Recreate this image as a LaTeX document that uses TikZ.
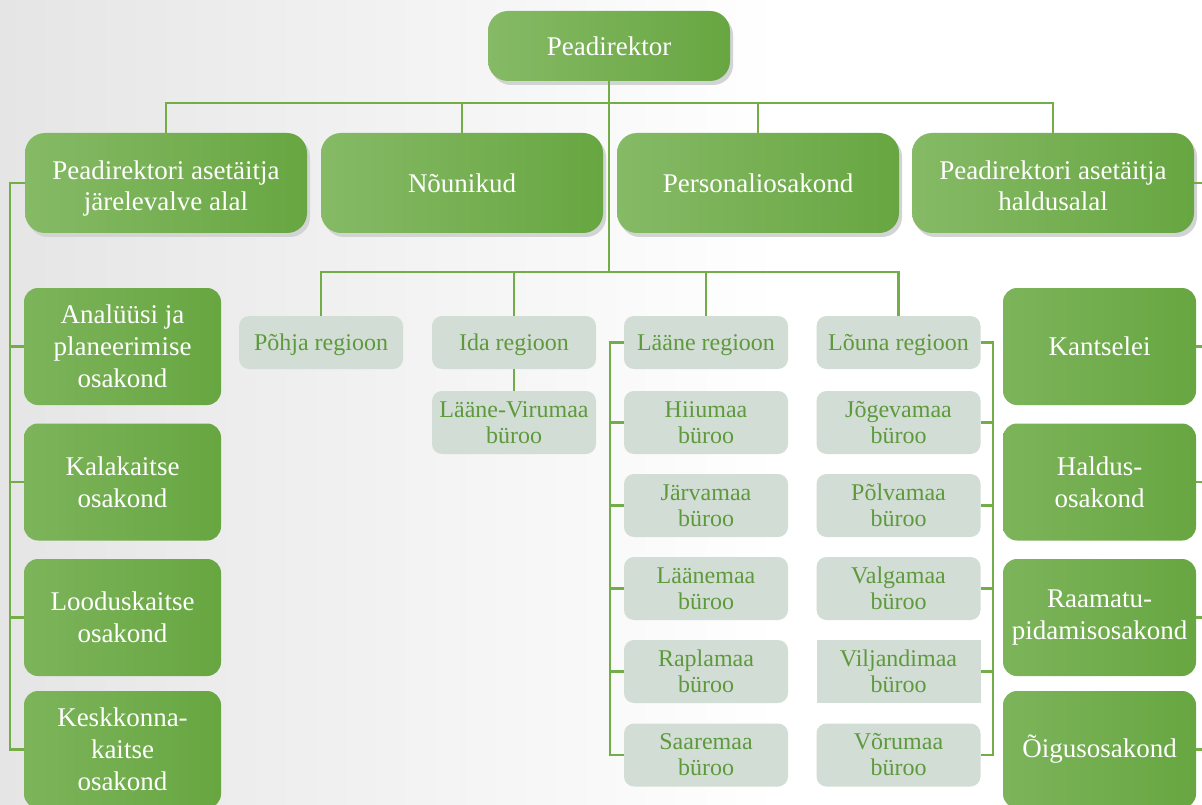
\documentclass[tikz,border=0pt]{standalone}
\usepackage{fontspec}
\setmainfont{Liberation Serif}
\usetikzlibrary{shadows}
\definecolor{gline}{HTML}{72AD48}
\definecolor{gdark}{HTML}{67A641}
\definecolor{glight}{HTML}{86BA66}
\definecolor{gbox}{HTML}{D2DDD6}
\definecolor{gtext}{HTML}{5E9A3C}
\definecolor{shadowc}{HTML}{D2D3D4}
\definecolor{bgc}{HTML}{E4E5E4}
\newcommand{\lowtxt}[2]{\raisebox{#1}[0pt][0pt]{#2}}
\begin{document}
\begin{tikzpicture}[x=1pt,y=-1pt,
  conn/.style={draw=gline, line width=2.6pt},
  topbox/.style={rounded corners=20pt, left color=glight, right color=gdark, text=white, align=center,
    font=\fontsize{27}{31}\selectfont, inner sep=0pt, minimum width=282pt, minimum height=100pt,
    drop shadow={shadow xshift=3pt, shadow yshift=-4pt, fill=shadowc, opacity=1}},
  sidebox/.style={rounded corners=14pt, left color=glight!70!gdark, right color=gdark, text=white, align=center,
    font=\fontsize{27}{32}\selectfont, inner sep=0pt, minimum width=197pt, minimum height=117pt},
  regbox/.style={rounded corners=10pt, fill=gbox, text=gtext, align=center,
    font=\fontsize{24}{26}\selectfont, inner sep=0pt, minimum width=164pt, minimum height=53pt},
  burbox/.style={regbox, minimum height=63pt}
]
\useasboundingbox (0,0) rectangle (1202,805);
\shade[left color=bgc, right color=white] (0,0) rectangle (780,805);
\fill[white] (779,0) rectangle (1202,805);

% coordinates for bars
\coordinate (bary) at (0,103);
\coordinate (regy) at (0,272);
\coordinate (lbx) at (10,0);
\coordinate (rbx) at (1204,0);
\coordinate (laanex) at (610,0);
\coordinate (lounax) at (993,0);
\coordinate (regbar) at (609,272);

% top
\node[topbox, minimum width=242pt, minimum height=70pt] (pd) at (609,46) {Peadirektor};
\node[topbox] (b1) at (166,183) {\lowtxt{-12pt}{\begin{tabular}{@{}c@{}}Peadirektori asetäitja\\järelevalve alal\end{tabular}}};
\node[topbox] (b2) at (462,183) {Nõunikud};
\node[topbox] (b3) at (758,183) {Personaliosakond};
\node[topbox] (b4) at (1053,183) {\lowtxt{-12pt}{\begin{tabular}{@{}c@{}}Peadirektori asetäitja\\haldusalal\end{tabular}}};

% left column
\node[sidebox] (l1) at (122.5,346.5) {Analüüsi ja\\planeerimise\\osakond};
\node[sidebox] (l2) at (122.5,482) {Kalakaitse\\osakond};
\node[sidebox] (l3) at (122.5,617.5) {Looduskaitse\\osakond};
\node[sidebox] (l4) at (122.5,749.5) {Keskkonna-\\kaitse\\osakond};

% right column
\node[sidebox, minimum width=193pt] (r1) at (1099.5,346.5) {Kantselei};
\node[sidebox, minimum width=193pt] (r2) at (1099.5,482) {Haldus-\\osakond};
\node[sidebox, minimum width=193pt] (r3) at (1099.5,617.5) {Raamatu-\\pidamisosakond};
\node[sidebox, minimum width=193pt] (r4) at (1099.5,749.5) {Õigusosakond};

% regions
\node[regbox] (pohja) at (321,342.5) {\lowtxt{-8pt}{Põhja regioon}};
\node[regbox] (ida) at (514,342.5) {\lowtxt{-8pt}{Ida regioon}};
\node[regbox] (laane) at (706,342.5) {\lowtxt{-8pt}{Lääne regioon}};
\node[regbox] (louna) at (898.5,342.5) {\lowtxt{-8pt}{Lõuna regioon}};

\node[burbox] (lv) at (514,422.5) {Lääne-Virumaa\\büroo};

\node[burbox] (hiiu) at (706,422.5) {Hiiumaa\\büroo};
\node[burbox] (jarva) at (706,505.5) {Järvamaa\\büroo};
\node[burbox] (laanem) at (706,588.5) {Läänemaa\\büroo};
\node[burbox] (rapla) at (706,671.5) {Raplamaa\\büroo};
\node[burbox] (saare) at (706,755) {Saaremaa\\büroo};

\node[burbox] (jogeva) at (898.5,422.5) {Jõgevamaa\\büroo};
\node[burbox] (polva) at (898.5,505.5) {Põlvamaa\\büroo};
\node[burbox] (valga) at (898.5,588.5) {Valgamaa\\büroo};
\node[burbox, sharp corners] (vilj) at (898.5,671.5) {Viljandimaa\\büroo};
\node[burbox] (voru) at (898.5,755) {Võrumaa\\büroo};

% connectors: top
\draw[conn] (pd.south) -- (regbar);
\draw[conn] (b1.north) -- (b1.north |- bary) -- (b4.north |- bary) -- (b4.north);
\draw[conn] (b2.north) -- (b2.north |- bary);
\draw[conn] (b3.north) -- (b3.north |- bary);

% regions bar
\draw[conn] (pohja.north) -- (pohja.north |- regy) -- (louna.north |- regy) -- (louna.north);
\draw[conn] (ida.north) -- (ida.north |- regy);
\draw[conn] (laane.north) -- (laane.north |- regy);
\draw[conn] (ida.south) -- (lv.north);

% left branch
\draw[conn] (b1.west) -- (b1.west -| lbx) -- (l4.west -| lbx) -- (l4.west);
\foreach \n in {l1,l2,l3} \draw[conn] (\n.west) -- (\n.west -| lbx);

% right branch
\draw[conn] (b4.east) -- (b4.east -| rbx) -- (r4.east -| rbx) -- (r4.east);
\foreach \n in {r1,r2,r3} \draw[conn] (\n.east) -- (\n.east -| rbx);

% Laane branch
\draw[conn] (laane.west) -- (laane.west -| laanex) -- (saare.west -| laanex) -- (saare.west);
\foreach \n in {hiiu,jarva,laanem,rapla} \draw[conn] (\n.west) -- (\n.west -| laanex);

% Louna branch
\draw[conn] (louna.east) -- (louna.east -| lounax) -- (voru.east -| lounax) -- (voru.east);
\foreach \n in {jogeva,polva,valga,vilj} \draw[conn] (\n.east) -- (\n.east -| lounax);
\end{tikzpicture}
\end{document}
